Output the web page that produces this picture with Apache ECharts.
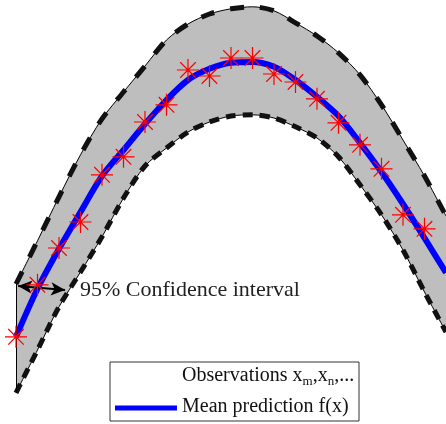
<!DOCTYPE html>
<html>
<head>
<meta charset="utf-8">
<script src="https://cdn.jsdelivr.net/npm/echarts@6/dist/echarts.min.js"></script>
<style>
html, body { margin: 0; padding: 0; background: #fff; }
#main { width: 446px; height: 424px; }
</style>
</head>
<body>
<div id="main"></div>
<script>
// grid positions along the curve
var xs = [0, 0.5, 1, 1.5, 2, 2.5, 3, 3.5, 4, 4.5, 5, 5.5, 6, 6.5, 7, 7.5, 8, 8.5, 9, 9.5, 10];
var meanY = [1.58, 2.78, 3.78, 4.7, 5.6, 6.25, 6.9, 7.5, 8.0, 8.28, 8.43, 8.45, 8.33, 8.0, 7.58, 7.1, 6.43, 5.7, 4.9, 4.05, 3.18];
var upperY = [2.9, 3.98, 5.08, 6.13, 7.03, 7.7, 8.35, 9.0, 9.4, 9.65, 9.78, 9.83, 9.73, 9.43, 9.1, 8.68, 8.13, 7.38, 6.5, 5.6, 4.6];
var lowerY = [0.18, 1.25, 2.33, 3.2, 4.08, 5.05, 5.85, 6.3, 6.7, 6.95, 7.1, 7.13, 7.05, 6.83, 6.55, 6.08, 5.38, 4.63, 3.75, 2.7, 1.7];

// observations
var obsX = [0, 0.5, 1, 1.5, 2, 2.5, 3, 3.5, 4, 4.5, 5, 5.5, 6, 6.5, 7, 7.5, 8, 8.5, 9, 9.5];
var obsY = [1.58, 2.88, 3.8, 4.45, 5.63, 6.08, 6.95, 7.38, 8.25, 8.1, 8.55, 8.55, 8.15, 7.95, 7.53, 6.93, 6.38, 5.78, 4.63, 4.28];

// arrow across the band (start / end)
var arrowFrom = [0.05, 2.85];
var arrowTo = [1.14, 2.75];

var chart = echarts.init(document.getElementById('main'));

function pairs(x, y) {
    return y.map(function (v, i) { return [x[i], v]; });
}
var bandH = upperY.map(function (v, i) { return +(v - lowerY[i]).toFixed(3); });

var serif = '"Liberation Serif", "Times New Roman", serif';
var starPath = 'path://M10,0L10,20M0,10L20,10M2.93,2.93L17.07,17.07M17.07,2.93L2.93,17.07';
var sm = 0.3;

function boundSeries(name, ys, dash) {
    return [{
        name: name + ' thin',
        type: 'line',
        xAxisIndex: 1,
        data: pairs(xs, ys),
        smooth: sm,
        symbol: 'none',
        silent: true,
        lineStyle: { color: '#000', width: 1 },
        z: 3
    }, {
        name: name + ' dash',
        type: 'line',
        xAxisIndex: 1,
        data: pairs(xs, ys),
        smooth: sm,
        symbol: 'none',
        silent: true,
        lineStyle: { color: '#111', width: 5, type: dash },
        z: 3
    }];
}

var option = {
    animation: false,
    backgroundColor: '#fff',
    grid: { left: 16, right: 0, top: 0, bottom: 24 },
    xAxis: [
        { type: 'category', data: xs, boundaryGap: false, show: false },
        { type: 'value', min: 0, max: 10, show: false }
    ],
    yAxis: { type: 'value', min: 0, max: 10, show: false },
    series: [
        {
            name: 'base',
            type: 'line',
            stack: 'band',
            data: lowerY,
            smooth: sm,
            symbol: 'none',
            silent: true,
            lineStyle: { opacity: 0 },
            z: 1
        },
        {
            name: 'band',
            type: 'line',
            stack: 'band',
            data: bandH,
            smooth: sm,
            symbol: 'none',
            silent: true,
            lineStyle: { opacity: 0 },
            areaStyle: { color: '#bebebe', opacity: 1 },
            z: 1
        }
    ]
    .concat(boundSeries('upper', upperY, [14, 16]))
    .concat(boundSeries('lower', lowerY, [10, 7]))
    .concat([
        {
            name: 'edge',
            type: 'line',
            xAxisIndex: 1,
            data: [],
            silent: true,
            markLine: {
                silent: true,
                animation: false,
                label: { show: false },
                symbol: 'none',
                lineStyle: { color: '#000', width: 1, type: 'solid' },
                data: [
                    [{ coord: [xs[0], lowerY[0]] }, { coord: [xs[0], upperY[0]] }]
                ]
            },
            z: 3
        },
        {
            name: 'Mean prediction f(x)',
            type: 'line',
            xAxisIndex: 1,
            data: pairs(xs, meanY),
            smooth: sm,
            symbol: 'none',
            lineStyle: { color: '#0000ff', width: 6 },
            z: 4
        },
        {
            name: 'arrow',
            type: 'line',
            xAxisIndex: 1,
            data: [],
            silent: true,
            markLine: {
                silent: true,
                animation: false,
                label: { show: false },
                symbol: ['arrow', 'arrow'],
                symbolSize: [10, 14],
                lineStyle: { color: '#000', width: 2, type: 'solid' },
                itemStyle: { color: '#000' },
                data: [
                    [{ coord: arrowFrom }, { coord: arrowTo }]
                ]
            },
            z: 5
        },
        {
            name: 'Observations',
            type: 'scatter',
            xAxisIndex: 1,
            data: pairs(obsX, obsY),
            symbol: starPath,
            symbolSize: 22,
            clip: false,
            itemStyle: { color: 'none', borderColor: '#ff0000', borderWidth: 1.2, opacity: 1 },
            z: 6
        }
    ]),
    graphic: [
        {
            type: 'text',
            left: 80,
            top: 279,
            style: { text: '95% Confidence interval', font: '22px ' + serif, fill: '#222' },
            z: 10
        },
        {
            type: 'rect',
            shape: { x: 110, y: 362, width: 249, height: 59 },
            style: { fill: '#fff', stroke: '#333', lineWidth: 1 },
            z: 10
        },
        {
            type: 'group',
            z: 11,
            children: [
                { type: 'line', shape: { x1: 143, y1: 374, x2: 143, y2: 387 }, style: { stroke: '#ff0000', lineWidth: 1.2 } },
                { type: 'line', shape: { x1: 136.5, y1: 380.5, x2: 149.5, y2: 380.5 }, style: { stroke: '#ff0000', lineWidth: 1.2 } },
                { type: 'line', shape: { x1: 138.4, y1: 375.9, x2: 147.6, y2: 385.1 }, style: { stroke: '#ff0000', lineWidth: 1.2 } },
                { type: 'line', shape: { x1: 147.6, y1: 375.9, x2: 138.4, y2: 385.1 }, style: { stroke: '#ff0000', lineWidth: 1.2 } }
            ]
        },
        {
            type: 'text',
            left: 182,
            top: 366,
            z: 11,
            style: {
                text: '{a|Observations x}{s|m}{a|,x}{s|n}{a|,...}',
                fill: '#111',
                rich: {
                    a: { fontFamily: serif, fontSize: 20, lineHeight: 24, verticalAlign: 'middle', fill: '#111' },
                    s: { fontFamily: serif, fontSize: 13, lineHeight: 13, verticalAlign: 'bottom', fill: '#111' }
                }
            }
        },
        {
            type: 'line',
            z: 11,
            shape: { x1: 115, y1: 408, x2: 177, y2: 408 },
            style: { stroke: '#0000ff', lineWidth: 5 }
        },
        {
            type: 'text',
            left: 182,
            top: 397,
            z: 11,
            style: { text: 'Mean prediction f(x)', font: '20px ' + serif, fill: '#111' }
        }
    ]
};

chart.setOption(option);
</script>
</body>
</html>
